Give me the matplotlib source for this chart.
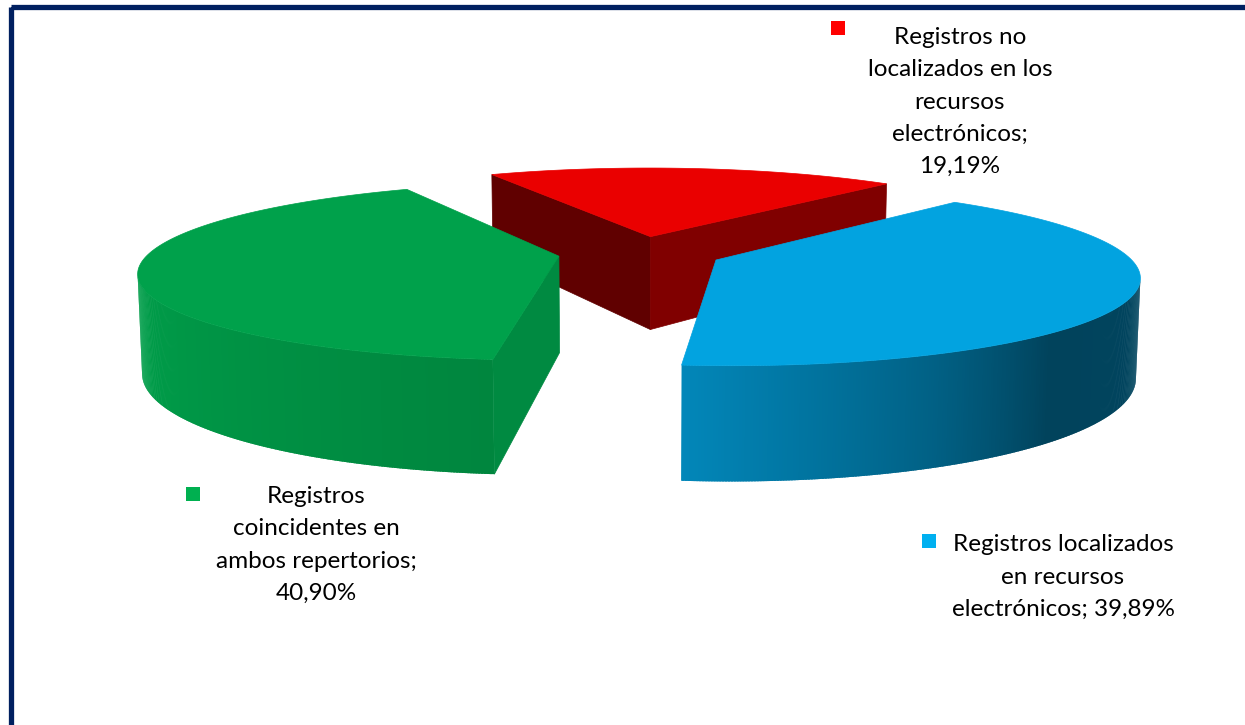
import numpy as np
import matplotlib.pyplot as plt
from matplotlib.colors import to_rgb
from matplotlib.patches import Polygon, Rectangle

# Dados (ordem horária a partir do fundo do gráfico)
categorias = ["Registros no\nlocalizados en los\nrecursos\nelectrónicos",
              "Registros localizados\nen recursos\nelectrónicos",
              "Registros\ncoincidentes en\nambos repertorios"]
porcentajes = [19.19, 39.89, 40.90]
separadores = [";\n", "; ", ";\n"]
cores = ["#EA0000", "#02A3E0", "#00A14B"]
cores_legenda = ["#FF0000", "#00B0F0", "#00B050"]

# Posições (centro) das etiquetas e dos marcadores da legenda, em pixels
pos_etiquetas = [(960, 102), (1063, 577), (316, 545)]
pos_marcadores = [(838, 28), (929, 541), (193, 494)]

# Parâmetros da projeção 3D
ANG0 = -27.0          # ângulo inicial (graus, horário a partir do fundo)
EXPLODE = 0.20
ESPESSURA = 0.241
ELEV = np.radians(12.0)
DIST = 5.8
ESCALA = 410
CX, CY = 640, 253
CAM = np.array([0.0, -DIST * np.cos(ELEV), DIST * np.sin(ELEV)])


def projetar(x, y, z):
    w = y * np.cos(ELEV) - z * np.sin(ELEV)
    v = y * np.sin(ELEV) + z * np.cos(ELEV)
    s = DIST / (DIST + w)
    return CX + ESCALA * x * s, CY - ESCALA * v * s


def escurecer(cor, f):
    r, g, b = to_rgb(cor)
    return (min(r * f, 1), min(g * f, 1), min(b * f, 1))


def sombra_parede(phi):
    return np.interp(phi, [90, 137, 155, 186, 270], [0.43, 0.41, 0.59, 0.83, 1.02])


def sombra_radial(phi):
    return np.interp(phi, [96, 133, 244], [0.86, 0.54, 0.41])


def visivel(normal, ponto):
    return np.dot(normal, CAM - np.array(ponto)) > 0


fig = plt.figure(figsize=(12.45, 7.25), dpi=100)
ax = fig.add_axes([0, 0, 1, 1])
ax.set_xlim(0, 1245)
ax.set_ylim(725, 0)
ax.axis("off")

# Fatias
angulos = np.cumsum([0] + [p / sum(porcentajes) * 360 for p in porcentajes]) + ANG0
fatias = []
for i, cor in enumerate(cores):
    t1, t2 = angulos[i], angulos[i + 1]
    tm = np.radians((t1 + t2) / 2)
    ox, oy = EXPLODE * np.sin(tm), EXPLODE * np.cos(tm)
    fatias.append((oy, i, t1, t2, ox, cor))

for oy, i, t1, t2, ox, cor in sorted(fatias, reverse=True):
    def borda(t, z):
        r = np.radians(t)
        return (ox + np.sin(r), oy + np.cos(r), z)

    faces = []
    # parede externa em segmentos finos (degradê), com leve sobreposição
    ts = np.linspace(t1, t2, int(abs(t2 - t1) * 3) + 2)
    passo = ts[1] - ts[0]
    for a, b in zip(ts[:-1], ts[1:]):
        c = np.radians((a + b) / 2)
        if visivel(np.array([np.sin(c), np.cos(c), 0]), borda((a + b) / 2, 0)):
            b2 = min(b + 0.8 * passo, t2)
            pts = [borda(a, 0), borda((a + b2) / 2, 0), borda(b2, 0),
                   borda(b2, -ESPESSURA), borda((a + b2) / 2, -ESPESSURA), borda(a, -ESPESSURA)]
            f = sombra_parede(((a + b) / 2) % 360)
            faces.append((pts, escurecer(cor, f), 0))
    # faces radiais
    for t, sinal in [(t1, -1), (t2, 1)]:
        r = np.radians(t)
        n = sinal * np.array([np.cos(r), -np.sin(r), 0])
        centro = (ox, oy, 0)
        if visivel(n, centro):
            pts = [centro, borda(t, 0), borda(t, -ESPESSURA), (ox, oy, -ESPESSURA)]
            phi = np.degrees(np.arctan2(n[0], n[1])) % 360
            faces.append((pts, escurecer(cor, sombra_radial(phi)), 0.5))
    for pts, c, lw in faces:
        xy = [projetar(*p) for p in pts]
        ax.add_patch(Polygon(xy, closed=True, facecolor=c, edgecolor=c, lw=lw))
    # face superior
    topo = [(ox, oy, 0)] + [borda(t, 0) for t in np.linspace(t1, t2, 120)]
    xy = [projetar(*p) for p in topo]
    ax.add_patch(Polygon(xy, closed=True, facecolor=cor, edgecolor=cor, lw=0.5))

# Etiquetas de dados com marcador de legenda
for i in range(len(categorias)):
    valor = f"{porcentajes[i]:.2f}%".replace(".", ",")
    texto = categorias[i] + separadores[i] + valor
    x, y = pos_etiquetas[i]
    ax.text(x, y, texto, ha="center", va="center", multialignment="center",
            fontsize=17.5, family="Lato", linespacing=1.65, color="#000000")
    mx, my = pos_marcadores[i]
    ax.plot(mx, my, "s", markersize=10, color=cores_legenda[i], markeredgewidth=0)

# Borda do gráfico
ax.add_patch(Rectangle((10.5, 6.5), 1400, 1000, fill=False, edgecolor="#002060", lw=3.8))

fig.savefig("out.png", dpi=100)
